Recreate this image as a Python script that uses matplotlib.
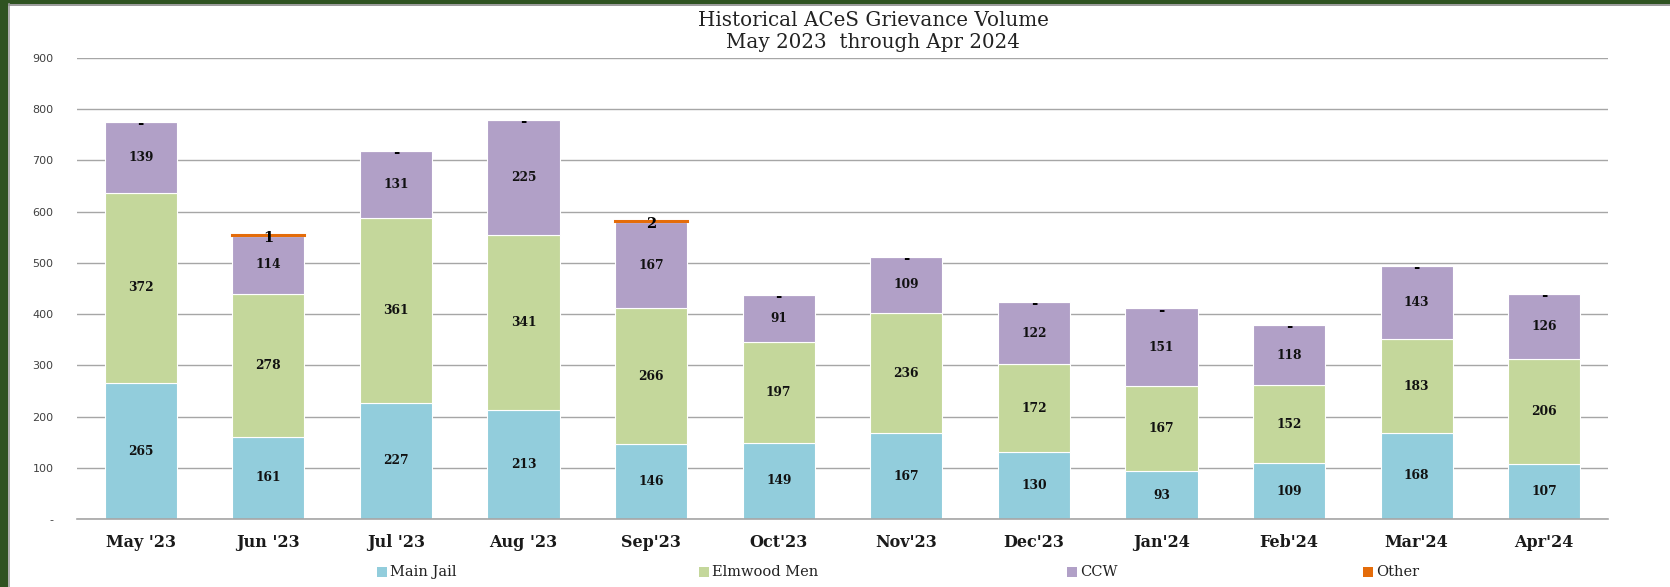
import matplotlib
matplotlib.use("Agg")
import matplotlib.pyplot as plt
from matplotlib.patches import Rectangle
import numpy as np

months = ["May '23", "Jun '23", "Jul '23", "Aug '23", "Sep'23", "Oct'23",
          "Nov'23", "Dec'23", "Jan'24", "Feb'24", "Mar'24", "Apr'24"]
main_jail = [265, 161, 227, 213, 146, 149, 167, 130, 93, 109, 168, 107]
elmwood_men = [372, 278, 361, 341, 266, 197, 236, 172, 167, 152, 183, 206]
ccw = [139, 114, 131, 225, 167, 91, 109, 122, 151, 118, 143, 126]
other = [0, 1, 0, 0, 2, 0, 0, 0, 0, 0, 0, 0]
series_names = ["Main Jail", "Elmwood Men", "CCW", "Other"]
colors = ["#92CDDC", "#C4D79B", "#B1A0C7", "#E46C0A"]
yticks = [0, 100, 200, 300, 400, 500, 600, 700, 800, 900]
ytick_labels = ["-", "100", "200", "300", "400", "500", "600", "700", "800", "900"]

W, H = 1670, 587
fig = plt.figure(figsize=(W / 100, H / 100), dpi=100)
fig.patch.set_facecolor("white")

# green frame (left and top) with thin gray inner line
fig.patches.append(Rectangle((0, 0), 8 / W, 1, transform=fig.transFigure,
                             facecolor="#2F5321", edgecolor="none", zorder=0))
fig.patches.append(Rectangle((0, 1 - 4 / H), 1, 4 / H, transform=fig.transFigure,
                             facecolor="#2F5321", edgecolor="none", zorder=0))
fig.add_artist(plt.Line2D([8.5 / W, 8.5 / W], [0, 1 - 4 / H], transform=fig.transFigure,
                          color="#A0A0A0", lw=1.2))
fig.add_artist(plt.Line2D([8.5 / W, 1], [1 - 5 / H, 1 - 5 / H], transform=fig.transFigure,
                          color="#8A8A8A", lw=1.2))

left, right = 77 / W, 1608 / W
bottom, top = (H - 519) / H, (H - 58) / H
ax = fig.add_axes([left, bottom, right - left, top - bottom])

x = np.arange(len(months))
data = [main_jail, elmwood_men, ccw, other]
base = np.zeros(len(months))
serif = "DejaVu Serif"
for vals, c, name in zip(data, colors, series_names):
    vals = np.array(vals, dtype=float)
    ax.bar(x, vals, 0.565, bottom=base, color=c, edgecolor="white", linewidth=0.8,
           zorder=3, label=name)
    for xi, b, v in zip(x, base, vals):
        if name == "Other":
            if v == 0:
                ax.text(xi, b + v - 4, "-", ha="center", va="center", fontsize=11,
                        fontweight="bold", family=serif, color="black", zorder=5)
            else:
                ax.plot([xi - 0.2825, xi + 0.2825], [b + v, b + v], color=c, lw=2.2, zorder=4)
                ax.text(xi, b - 4, f"{int(v)}", ha="center", va="center", fontsize=10.5,
                        fontweight="bold", family=serif, color="black", zorder=5)
        else:
            ax.text(xi, b + v / 2, f"{int(v)}", ha="center", va="center", fontsize=8.8,
                    fontweight="bold", family=serif, color="#111111", zorder=5)
    base = base + vals

ax.set_xlim(-0.5, len(months) - 0.5)
ax.set_ylim(0, 900)
ax.set_yticks(yticks)
ax.set_yticklabels(ytick_labels, fontsize=8, color="#404040", family="DejaVu Sans")
ax.set_xticks(x)
ax.set_xticklabels(months, fontsize=11.5, fontweight="bold", family=serif, color="#1a1a1a")
ax.tick_params(axis="both", length=0)
ax.tick_params(axis="y", pad=17)
ax.tick_params(axis="x", pad=11)
ax.grid(axis="y", color="#A6A6A6", lw=1.0, zorder=0)
ax.axhline(0, color="#A6A6A6", lw=1.2, zorder=4, clip_on=False)
for s in ax.spines.values():
    s.set_visible(False)
ax.set_facecolor("none")

fig.text(873 / W, 1 - 20 / H, "Historical ACeS Grievance Volume", ha="center", va="center",
         fontsize=14.3, family=serif, color="#222222")
fig.text(873 / W, 1 - 43 / H, "May 2023  through Apr 2024", ha="center", va="center",
         fontsize=14.3, family=serif, color="#222222")

# legend (manual positions)
leg_x = [377, 699, 1067, 1363]
leg_y = 572
for lx, c, name in zip(leg_x, colors, series_names):
    fig.patches.append(Rectangle((lx / W, (H - leg_y - 5) / H), 10 / W, 10 / H,
                                 transform=fig.transFigure, facecolor=c, edgecolor="none"))
    fig.text((lx + 13) / W, (H - leg_y) / H, name, ha="left", va="center",
             fontsize=10.5, family=serif, color="#222222")

fig.savefig("out.png", dpi=100)
